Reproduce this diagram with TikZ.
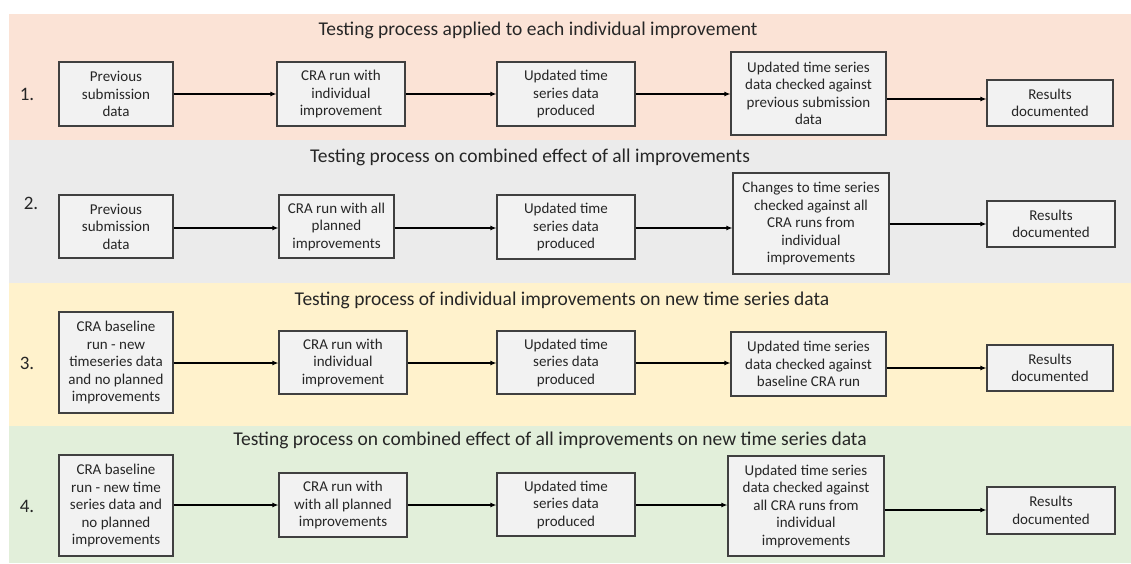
\documentclass[tikz,border=0pt]{standalone}
\usepackage{fontspec}
\setmainfont{Carlito}
\usetikzlibrary{arrows.meta}
\definecolor{bandA}{HTML}{FBE3D6}
\definecolor{bandB}{HTML}{EBEBEB}
\definecolor{bandC}{HTML}{FFF2CC}
\definecolor{bandD}{HTML}{E2EFDA}
\definecolor{boxfill}{HTML}{F2F2F2}
\definecolor{boxline}{HTML}{404040}
\definecolor{txt}{HTML}{262626}
\tikzset{
  procbox/.style={draw=boxline, line width=1.1pt, fill=boxfill, align=center, inner sep=0pt,
    font=\fontsize{15}{17.5}\selectfont, text=txt},
  bandtitle/.style={font=\fontsize{19.5}{22}\selectfont, text=txt, inner sep=0pt},
  numlabel/.style={font=\fontsize{19}{22}\selectfont, text=txt, inner sep=0pt},
  flow/.style={-{Latex[length=6pt,width=5pt]}, line width=1.3pt, black}
}
\begin{document}
\begin{tikzpicture}[x=1pt,y=-1pt]
\useasboundingbox (0,0) rectangle (1131,563);
\fill[white] (0,0) rectangle (1131,563);
% bands
\fill[bandA] (9,13.5) rectangle (1131,140);
\fill[bandB] (9,140) rectangle (1131,283);
\fill[bandC] (9,283) rectangle (1131,426);
\fill[bandD] (9,426) rectangle (1131,563);
% titles
\node[bandtitle] (t1) at (538,30) {Testing process applied to each individual improvement};
\node[bandtitle] (t2) at (530,157) {Testing process on combined effect of all improvements};
\node[bandtitle] (t3) at (562,300) {Testing process of individual improvements on new time series data};
\node[bandtitle] (t4) at (550,440) {Testing process on combined effect of all improvements on new time series data};
% numbers
\node[numlabel] (n1) at (27,94) {1.};
\node[numlabel] (n2) at (31,203) {2.};
\node[numlabel] (n3) at (27,363) {3.};
\node[numlabel] (n4) at (27,506) {4.};
% band 1
\node[procbox, minimum width=114pt, minimum height=64pt] (A1) at (116,94) {Previous\\submission\\data};
\node[procbox, minimum width=128pt, minimum height=64pt] (B1) at (341,94) {CRA run with\\individual\\improvement};
\node[procbox, minimum width=138pt, minimum height=64pt] (C1) at (566,94) {Updated time\\series data\\produced};
\node[procbox, minimum width=155pt, minimum height=83pt] (D1) at (808.5,93.5) {Updated time series\\data checked against\\previous submission\\data};
\node[procbox, minimum width=126pt, minimum height=46pt] (E1) at (1050,103) {Results\\documented};
\draw[flow] (A1.east |- 0,94) -- (B1.west |- 0,94);
\draw[flow] (B1.east |- 0,94) -- (C1.west |- 0,94);
\draw[flow] (C1.east |- 0,94) -- (D1.west |- 0,94);
\draw[flow] (D1.east |- 0,99) -- (E1.west |- 0,99);
% band 2
\node[procbox, minimum width=114pt, minimum height=63pt] (A2) at (116,226.5) {Previous\\submission\\data};
\node[procbox, minimum width=115pt, minimum height=63pt] (B2) at (336.5,226.5) {CRA run with all\\planned\\improvements};
\node[procbox, minimum width=138pt, minimum height=64pt] (C2) at (566,227) {Updated time\\series data\\produced};
\node[procbox, minimum width=156pt, minimum height=101pt] (D2) at (811,223.5) {Changes to time series\\checked against all\\CRA runs from\\individual\\improvements};
\node[procbox, minimum width=128pt, minimum height=46pt] (E2) at (1051,224) {Results\\documented};
\draw[flow] (A2.east |- 0,228) -- (B2.west |- 0,228);
\draw[flow] (B2.east |- 0,228) -- (C2.west |- 0,228);
\draw[flow] (C2.east |- 0,228) -- (D2.west |- 0,228);
\draw[flow] (D2.east |- 0,224) -- (E2.west |- 0,224);
% band 3
\node[procbox, minimum width=114pt, minimum height=101pt] (A3) at (116,362.5) {CRA baseline\\run - new\\timeseries data\\and no planned\\improvements};
\node[procbox, minimum width=128pt, minimum height=63pt] (B3) at (343,362.5) {CRA run with\\individual\\improvement};
\node[procbox, minimum width=138pt, minimum height=63pt] (C3) at (566,362.5) {Updated time\\series data\\produced};
\node[procbox, minimum width=155pt, minimum height=64pt] (D3) at (808.5,364) {Updated time series\\data checked against\\baseline CRA run};
\node[procbox, minimum width=126pt, minimum height=46pt] (E3) at (1050,368) {Results\\documented};
\draw[flow] (A3.east |- 0,363) -- (B3.west |- 0,363);
\draw[flow] (B3.east |- 0,363) -- (C3.west |- 0,363);
\draw[flow] (C3.east |- 0,363) -- (D3.west |- 0,363);
\draw[flow] (D3.east |- 0,368) -- (E3.west |- 0,368);
% band 4
\node[procbox, minimum width=114pt, minimum height=101pt] (A4) at (116,505.5) {CRA baseline\\run - new time\\series data and\\no planned\\improvements};
\node[procbox, minimum width=128pt, minimum height=64pt] (B4) at (343,505) {CRA run with\\with all planned\\improvements};
\node[procbox, minimum width=138pt, minimum height=63pt] (C4) at (566,504.5) {Updated time\\series data\\produced};
\node[procbox, minimum width=156pt, minimum height=100pt] (D4) at (806,506) {Updated time series\\data checked against\\all CRA runs from\\individual\\improvements};
\node[procbox, minimum width=128pt, minimum height=47pt] (E4) at (1051,510.5) {Results\\documented};
\draw[flow] (A4.east |- 0,505) -- (B4.west |- 0,505);
\draw[flow] (B4.east |- 0,505) -- (C4.west |- 0,505);
\draw[flow] (C4.east |- 0,505) -- (D4.west |- 0,505);
\draw[flow] (D4.east |- 0,510) -- (E4.west |- 0,510);
\end{tikzpicture}
\end{document}
